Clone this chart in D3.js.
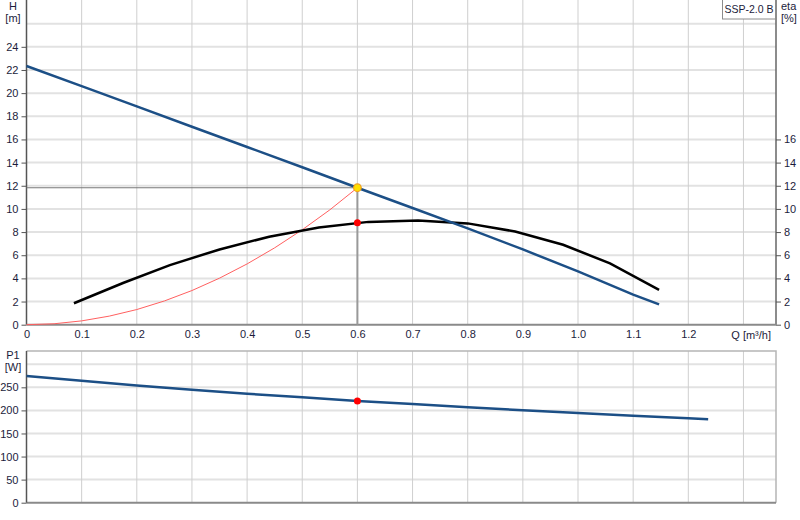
<!DOCTYPE html>
<html>
<head>
<meta charset="utf-8">
<script src="https://cdn.jsdelivr.net/npm/d3@7"></script>
<style>
  body { margin: 0; background: #fff; }
  svg { display: block; font-family: "Liberation Sans", Arial, sans-serif; }
  .tick text { font-size: 11px; fill: #1c1c3c; }
  .lbl { font-size: 11px; fill: #1c1c3c; }
</style>
</head>
<body>
<svg id="chart" width="800" height="520"></svg>
<script>
// ticks
const qTicks = [0, 0.1, 0.2, 0.3, 0.4, 0.5, 0.6, 0.7, 0.8, 0.9, 1.0, 1.1, 1.2];
const qGrid = [0.1, 0.2, 0.3, 0.4, 0.5, 0.6, 0.7, 0.8, 0.9, 1.0, 1.1, 1.2, 1.3];
const hTicks = [0, 2, 4, 6, 8, 10, 12, 14, 16, 18, 20, 22, 24];
const hGrid = [2, 4, 6, 8, 10, 12, 14, 16, 18, 20, 22, 24, 26];
const etaTicks = [0, 2, 4, 6, 8, 10, 12, 14, 16];
const p1Ticks = [0, 50, 100, 150, 200, 250];
const p1Grid = [50, 100, 150, 200, 250, 300];

// pump head curve H(Q)
const hQ = [0, 0.1, 0.2, 0.3, 0.4, 0.5, 0.6, 0.7, 0.8, 0.9, 1.0, 1.1, 1.147];
const hVal = [22.34, 20.6, 18.85, 17.1, 15.35, 13.6, 11.83, 10.08, 8.32, 6.5, 4.6, 2.6, 1.75];

// efficiency eta(Q)
const etaQ = [0.086, 0.175, 0.26, 0.35, 0.44, 0.53, 0.62, 0.71, 0.80, 0.886, 0.973, 1.058, 1.147];
const etaVal = [1.85, 3.6, 5.15, 6.5, 7.6, 8.4, 8.88, 9.0, 8.75, 8.05, 6.9, 5.3, 3.0];

// system curve
const sysQ = [0, 0.05, 0.1, 0.15, 0.2, 0.25, 0.3, 0.35, 0.4, 0.45, 0.5, 0.55, 0.6];
const sysVal = [0, 0.08, 0.33, 0.74, 1.31, 2.05, 2.95, 4.02, 5.25, 6.64, 8.2, 9.92, 11.83];

// power P1(Q)
const p1Q = [0, 0.1, 0.2, 0.3, 0.4, 0.5, 0.6, 0.7, 0.8, 0.9, 1.0, 1.1, 1.2, 1.236];
const p1Val = [274.5, 264.3, 253.8, 244.8, 236.2, 228.3, 220.3, 213.8, 206.9, 200.4, 194.3, 188.2, 182.8, 180.7];

// duty point
const dutyQ = 0.6, dutyH = 11.83, dutyEta = 8.8, dutyP1 = 220.3;

const svg = d3.select('#chart');
const blue = '#1c4f86';

const x = d3.scaleLinear().domain([0, 1.359]).range([26.5, 776]);
const yH = d3.scaleLinear().domain([0, 28]).range([324.7, 0.5]);
const yP = d3.scaleLinear().domain([0, 330]).range([502.7, 350.4]);

const pts = (xs, ys) => xs.map((q, i) => [q, ys[i]]);

// ---------- top chart ----------
const headG = svg.append('g');

headG.selectAll('.hgrid').data(hGrid).enter().append('line')
	.attr('x1', x(0)).attr('x2', 776)
	.attr('y1', d => yH(d)).attr('y2', d => yH(d))
	.attr('stroke', '#e2e2e2').attr('stroke-width', 2);
headG.selectAll('.vgrid').data(qGrid).enter().append('line')
	.attr('x1', d => x(d)).attr('x2', d => x(d))
	.attr('y1', 0).attr('y2', yH(0))
	.attr('stroke', '#cfcfcf').attr('stroke-width', 1);

// left axis
const axH = headG.append('g').attr('transform', `translate(${x(0)},0)`)
	.call(d3.axisLeft(yH).tickValues(hTicks).tickSize(5).tickPadding(3));
axH.select('.domain').attr('d', `M0,0V${yH(0)}`).attr('stroke', '#555').attr('stroke-width', 1.5);
axH.selectAll('.tick line').attr('stroke', '#555');

// right axis (eta)
const axE = headG.append('g').attr('transform', `translate(776,0)`)
	.call(d3.axisRight(yH).tickValues(etaTicks).tickSize(5).tickPadding(3));
axE.select('.domain').attr('d', `M0,0V${yH(0)}`).attr('stroke', '#666').attr('stroke-width', 1.5);
axE.selectAll('.tick line').attr('stroke', '#555');

// bottom axis
const axQ = headG.append('g').attr('transform', `translate(0,${yH(0)})`)
	.call(d3.axisBottom(x).tickValues(qTicks).tickSize(0).tickPadding(6)
		.tickFormat(d => d === 0 ? '0' : d.toFixed(1)));
axQ.select('.domain').attr('d', `M${x(0)},0H776`).attr('stroke', '#8a8a8a').attr('stroke-width', 2);

headG.append('text').attr('class', 'lbl').attr('x', 771).attr('y', 339)
	.attr('text-anchor', 'end').text('Q [m³/h]');
headG.append('text').attr('class', 'lbl').attr('x', 13).attr('y', 10).attr('text-anchor', 'middle').text('H');
headG.append('text').attr('class', 'lbl').attr('x', 13).attr('y', 22).attr('text-anchor', 'middle').text('[m]');
headG.append('text').attr('class', 'lbl').attr('x', 781).attr('y', 10).text('eta');
headG.append('text').attr('class', 'lbl').attr('x', 781).attr('y', 22).text('[%]');

// duty guide lines
headG.append('line')
	.attr('x1', x(0)).attr('x2', x(dutyQ)).attr('y1', yH(dutyH)).attr('y2', yH(dutyH))
	.attr('stroke', '#777').attr('stroke-width', 1.2);
headG.append('line')
	.attr('x1', x(dutyQ)).attr('x2', x(dutyQ)).attr('y1', yH(dutyH)).attr('y2', yH(0))
	.attr('stroke', '#999').attr('stroke-width', 2);

const lineH = d3.line().x(d => x(d[0])).y(d => yH(d[1]));

headG.append('path').datum(pts(sysQ, sysVal))
	.attr('d', lineH).attr('fill', 'none')
	.attr('stroke', '#ff6060').attr('stroke-width', 1);
headG.append('path').datum(pts(etaQ, etaVal))
	.attr('d', lineH).attr('fill', 'none')
	.attr('stroke', '#000').attr('stroke-width', 2.5);
headG.append('path').datum(pts(hQ, hVal))
	.attr('d', lineH).attr('fill', 'none')
	.attr('stroke', blue).attr('stroke-width', 2.5);

headG.append('circle').attr('cx', x(dutyQ)).attr('cy', yH(dutyEta)).attr('r', 3.5).attr('fill', '#ff0000');
headG.append('circle').attr('cx', x(dutyQ)).attr('cy', yH(dutyH)).attr('r', 3.8)
	.attr('fill', '#ffe000').attr('stroke', '#f0a020').attr('stroke-width', 1.2);

// legend box
headG.append('rect').attr('x', 722.5).attr('y', -1).attr('width', 53).attr('height', 20)
	.attr('fill', '#fff').attr('stroke', '#8c8c8c').attr('stroke-width', 1);
headG.append('text').attr('class', 'lbl').attr('x', 749).attr('y', 13)
	.attr('text-anchor', 'middle').style('font-size', '10.5px').text('SSP-2.0 B');

// ---------- bottom chart ----------
const powerG = svg.append('g');

powerG.selectAll('.hgrid').data(p1Grid).enter().append('line')
	.attr('x1', x(0)).attr('x2', 776)
	.attr('y1', d => yP(d)).attr('y2', d => yP(d))
	.attr('stroke', '#e2e2e2').attr('stroke-width', 2);
powerG.selectAll('.vgrid').data(qGrid).enter().append('line')
	.attr('x1', d => x(d)).attr('x2', d => x(d))
	.attr('y1', 351).attr('y2', yP(0))
	.attr('stroke', '#cfcfcf').attr('stroke-width', 1);

// frame
powerG.append('path').attr('d', `M${x(0)},351H776V${yP(0)}`)
	.attr('fill', 'none').attr('stroke', '#b5b5b5').attr('stroke-width', 1.5);
powerG.append('path').attr('d', `M${x(0)},${yP(0)}H776`)
	.attr('fill', 'none').attr('stroke', '#8a8a8a').attr('stroke-width', 2);

const axP = powerG.append('g').attr('transform', `translate(${x(0)},0)`)
	.call(d3.axisLeft(yP).tickValues(p1Ticks).tickSize(5).tickPadding(3));
axP.select('.domain').attr('d', `M0,351V${yP(0)}`).attr('stroke', '#555').attr('stroke-width', 1.5);
axP.selectAll('.tick line').attr('stroke', '#555');

powerG.append('text').attr('class', 'lbl').attr('x', 13).attr('y', 359).attr('text-anchor', 'middle').text('P1');
powerG.append('text').attr('class', 'lbl').attr('x', 13).attr('y', 371).attr('text-anchor', 'middle').text('[W]');

const lineP = d3.line().x(d => x(d[0])).y(d => yP(d[1]));
powerG.append('path').datum(pts(p1Q, p1Val))
	.attr('d', lineP).attr('fill', 'none')
	.attr('stroke', blue).attr('stroke-width', 2.5);
powerG.append('circle').attr('cx', x(dutyQ)).attr('cy', yP(dutyP1)).attr('r', 3.5).attr('fill', '#ff0000');
</script>
</body>
</html>
